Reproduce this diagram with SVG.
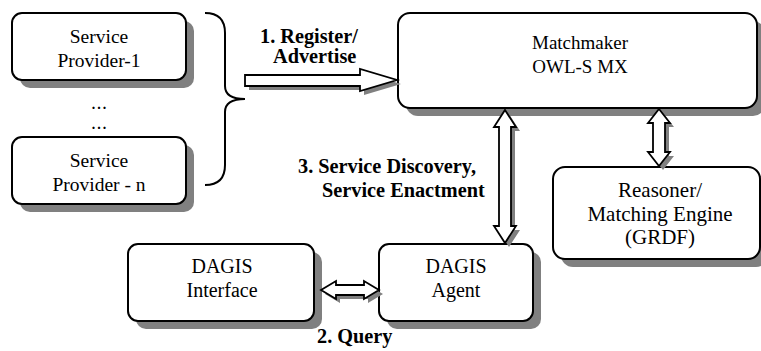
<svg xmlns="http://www.w3.org/2000/svg" width="761" height="351" viewBox="0 0 761 351">
  <style>
    .box { fill: #ffffff; stroke: #000000; stroke-width: 2; }
    .shadow { fill: #808080; stroke: none; }
    .arrow { fill: #ffffff; stroke: #000000; stroke-width: 1.8; stroke-linejoin: miter; }
    .ashadow { fill: #808080; stroke: none; }
    .t { font-family: 'Liberation Serif', 'Times New Roman', serif; font-size: 19.5px; fill: #000; text-anchor: middle; }
    .lbl { font-family: 'Liberation Serif', 'Times New Roman', serif; font-size: 20.3px; font-weight: bold; fill: #000; }
    .dots { font-family: 'Liberation Serif', 'Times New Roman', serif; font-size: 14px; font-weight: bold; letter-spacing: 2px; fill: #000; text-anchor: middle; }
    .brace { fill: none; stroke: #000; stroke-width: 2; }
  </style>
  <defs>
    <!-- single-headed register arrow, pointing right -->
    <path id="regArrow" d="M245,75 L360,75 L360,69 L397,80 L360,91 L360,86 L245,86 Z"/>
    <!-- vertical double arrow between matchmaker and agent -->
    <path id="discArrow" d="M505,110 L516,127 L511,127 L511,226 L516,226 L505,243 L494,226 L499,226 L499,127 L494,127 Z"/>
    <!-- vertical double arrow between matchmaker and reasoner -->
    <path id="reasArrow" d="M659,109 L670,123 L665,123 L665,152 L670,152 L659,166 L648,152 L653,152 L653,123 L648,123 Z"/>
    <!-- horizontal double arrow between interface and agent -->
    <path id="queryArrow" d="M321,290 L336,281 L336,285 L364,285 L364,281 L379,290 L364,299 L364,295 L336,295 L336,299 Z"/>
  </defs>

  <g id="provider1">
    <rect class="shadow" x="20" y="21" width="174" height="67" rx="10"/>
    <rect class="box" x="12" y="13" width="174" height="67" rx="10"/>
    <text class="t" x="99" y="43">Service</text>
    <text class="t" x="99" y="67">Provider-1</text>
  </g>

  <g id="ellipsis">
    <text class="dots" x="100" y="109">...</text>
    <text class="dots" x="100" y="129">...</text>
  </g>

  <g id="providerN">
    <rect class="shadow" x="20" y="145" width="174" height="67" rx="10"/>
    <rect class="box" x="12" y="137" width="174" height="67" rx="10"/>
    <text class="t" x="99" y="167">Service</text>
    <text class="t" x="99" y="191">Provider - n</text>
  </g>

  <g id="matchmaker">
    <rect class="shadow" x="406" y="21" width="359" height="95" rx="12"/>
    <rect class="box" x="398" y="13" width="359" height="95" rx="12"/>
    <text class="t" x="580" y="49" style="font-size:19px">Matchmaker</text>
    <text class="t" x="580" y="73" style="font-size:19px">OWL-S MX</text>
  </g>

  <g id="reasoner">
    <rect class="shadow" x="561" y="175" width="207" height="92" rx="12"/>
    <rect class="box" x="553" y="167" width="207" height="92" rx="12"/>
    <text class="t" x="660" y="197" style="font-size:21px">Reasoner/</text>
    <text class="t" x="660" y="221" style="font-size:21px">Matching Engine</text>
    <text class="t" x="660" y="244" style="font-size:21px">(GRDF)</text>
  </g>

  <g id="dagisInterface">
    <rect class="shadow" x="136" y="252" width="186" height="77" rx="10"/>
    <rect class="box" x="128" y="244" width="186" height="77" rx="10"/>
    <text class="t" x="222" y="273" style="font-size:20px">DAGIS</text>
    <text class="t" x="222" y="297" style="font-size:20px">Interface</text>
  </g>

  <g id="dagisAgent">
    <rect class="shadow" x="387" y="252" width="154" height="77" rx="10"/>
    <rect class="box" x="379" y="244" width="154" height="77" rx="10"/>
    <text class="t" x="456" y="273" style="font-size:20px">DAGIS</text>
    <text class="t" x="456" y="297" style="font-size:20px">Agent</text>
  </g>

  <g id="connectors">
    <path class="brace" d="M205,13 Q225,13 225,33 L225,86 Q225,99 245,99 Q225,99 225,112 L225,165 Q225,185 205,185"/>

    <use href="#regArrow" class="ashadow" transform="translate(4,4)"/>
    <use href="#regArrow" class="arrow"/>

    <use href="#discArrow" class="ashadow" transform="translate(4,4)"/>
    <use href="#discArrow" class="arrow"/>

    <use href="#reasArrow" class="ashadow" transform="translate(4,4)"/>
    <use href="#reasArrow" class="arrow"/>

    <use href="#queryArrow" class="ashadow" transform="translate(4,4)"/>
    <use href="#queryArrow" class="arrow"/>

    <text class="lbl" x="260" y="43">1. Register/</text>
    <text class="lbl" x="273" y="63">Advertise</text>
    <text class="lbl" x="298" y="173">3. Service Discovery,</text>
    <text class="lbl" x="322" y="197">Service Enactment</text>
    <text class="lbl" x="317" y="343">2. Query</text>
  </g>
</svg>
